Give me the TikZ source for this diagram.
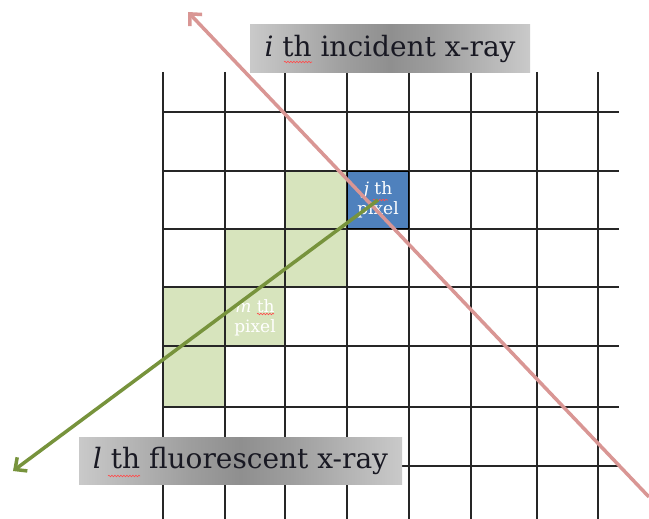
\documentclass[tikz,border=0pt]{standalone}
\usepackage{fontspec}
\setmainfont{DejaVu Serif}
\usetikzlibrary{arrows.meta,decorations.pathmorphing}
\definecolor{rayred}{RGB}{217,150,148}
\definecolor{raygreen}{RGB}{119,147,60}
\definecolor{cellgreen}{RGB}{215,228,189}
\definecolor{cellblue}{RGB}{79,129,189}
\definecolor{textdark}{RGB}{25,25,35}
\pgfdeclarehorizontalshading{lblshade}{100bp}{color(0bp)=(black!7); color(20bp)=(black!16); color(42bp)=(black!38); color(50bp)=(black!44); color(58bp)=(black!38); color(80bp)=(black!16); color(100bp)=(black!7)}
\begin{document}
\begin{tikzpicture}[x=1pt,y=-1pt,
  gridline/.style={draw=black!85,line width=1.1pt},
  greencell/.style={fill=cellgreen},
  bluecell/.style={draw=black,line width=1.8pt,fill=cellblue,minimum width=61pt,minimum height=57pt,inner sep=0pt,
    text=white,align=center,font=\fontsize{17}{21}\selectfont},
  pixlabel/.style={text=white,align=center,font=\fontsize{17}{21}\selectfont,inner sep=0pt},
  redray/.style={draw=rayred,line width=3.5pt,-{Straight Barb[length=9pt,width=17pt,line width=3.5pt]}},
  greenray/.style={draw=raygreen,line width=3.5pt,-{Straight Barb[length=9pt,width=17pt,line width=3.5pt]}},
  labelbox/.style={shading=lblshade,text=textdark,inner sep=0pt,font=\fontsize{28}{30}\selectfont},
  squig/.style={draw=red!70,line width=0.6pt,decorate,decoration={snake,amplitude=0.8pt,segment length=3pt}}
]
\useasboundingbox (0,0) rectangle (649,519);
% green cells
\fill[greencell] (285,171) rectangle (347,287);
\fill[greencell] (225,229) rectangle (285,346);
\fill[greencell] (163,287) rectangle (225,407);
% grid
\foreach \x in {163,225,285,347,409,471,537,598} \draw[gridline] (\x,72) -- (\x,519);
\foreach \y in {112,171,229,287,346,407,466} \draw[gridline] (163,\y) -- (619,\y);
% j th pixel
\node[bluecell] (jpix) at (378,200) {\textit{j} th\\[-1pt]pixel};
\draw[squig] (373,200) -- (388,200);
% m th pixel
\node[pixlabel] (mpix) at (255,318) {\textit{m} th\\[-1pt]pixel};
\draw[squig] (257,314) -- (274,314);
% rays
\coordinate (redstart) at (649,497);
\coordinate (redtip) at (188,12);
\coordinate (greentip) at (13,471);
\draw[redray] (redstart) -- (redtip);
\draw[greenray] (jpix.center) -- (greentip);
% labels
\node[labelbox,minimum width=280pt,minimum height=48pt] (incident) at (390,49) {\textit{i} th incident x-ray};
\node[labelbox,minimum width=323pt,minimum height=47pt] (fluor) at (240.5,460.5) {\textit{l} th fluorescent x-ray};
\draw[squig] (284,62) -- (312,62);
\draw[squig] (108,476) -- (140,476);
\end{tikzpicture}
\end{document}
